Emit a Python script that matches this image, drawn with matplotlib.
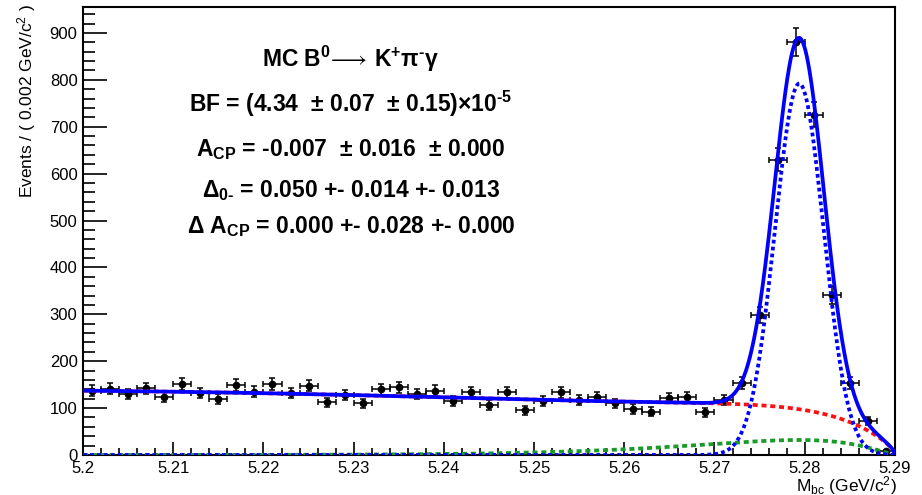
import numpy as np
import matplotlib
matplotlib.use("Agg")
import matplotlib.pyplot as plt
from matplotlib.ticker import MultipleLocator, FuncFormatter

plt.rcParams["font.family"] = ["Liberation Sans", "DejaVu Sans"]
plt.rcParams["mathtext.default"] = "regular"

# Binning of the M_bc histogram (GeV/c^2)
mbc_min, mbc_max, bin_width = 5.20, 5.29, 0.002

# Events per bin
counts = [137, 141, 130, 142, 124, 152, 132, 119, 149, 135,
          152, 132, 148, 112, 128, 110, 140, 144, 130, 137,
          116, 134, 107, 134, 95, 116, 134, 117, 124, 110,
          98, 92, 122, 124, 91, 117, 153, 299, 630, 880,
          726, 341, 153, 73, 8]

# Fit model: Gaussian signal, ARGUS continuum, peaking B background
sig_mean, sig_sigma, sig_peak = 5.2794, 0.0027, 792.0
argus_m0, argus_c, argus_norm = 5.29, -10.5, 204.7
bbkg_peak, bbkg_power, bbkg_c = 32.0, 1.25, -310.0

# Fit results printed on the plot
title_line = "MC B$^{0}\\!\\longrightarrow\\!$ K$^{+}$\u03c0$^{\u2010}$\u03b3"
bf_line = "BF = (4.34  \u00b1 0.07  \u00b1 0.15)\u00d710$^{\u2010 5}$"
acp_line = "A$_{CP}$ = -0.007  \u00b1 0.016  \u00b1 0.000"
delta0_line = "\u0394$_{0\u2010}$ = 0.050 +- 0.014 +- 0.013"
dacp_line = "\u0394 A$_{CP}$ = 0.000 +- 0.028 +- 0.000"


def argus_u(m):
    return np.clip(1.0 - (m / argus_m0) ** 2, 0.0, None)


def continuum(m):
    u = argus_u(m)
    return argus_norm * m * np.sqrt(u) * np.exp(argus_c * u)


def bbkg(m):
    u = argus_u(m)
    u0 = -bbkg_power / bbkg_c
    return bbkg_peak * (u / u0) ** bbkg_power * np.exp(bbkg_c * (u - u0))


def signal(m):
    return sig_peak * np.exp(-0.5 * ((m - sig_mean) / sig_sigma) ** 2)


n_bins = len(counts)
centers = mbc_min + bin_width * (np.arange(n_bins) + 0.5)
y = np.array(counts, dtype=float)
yerr = np.sqrt(y)

m = np.linspace(mbc_min, mbc_max, 1200)
bkg_total = continuum(m) + bbkg(m)
total = signal(m) + bkg_total

fig = plt.figure(figsize=(9.22, 4.95), dpi=100)
ax = fig.add_axes([0.0901, 0.0808, 0.8805, 0.9057])

ax.errorbar(centers, y, xerr=bin_width / 2, yerr=yerr, fmt="o", color="black",
            markersize=4.5, elinewidth=1.1, capsize=2.2, capthick=1.1, zorder=2)

ax.plot(m, bbkg(m), color="#1a9a2a", lw=2.7, ls=(0, (1.35, 1.0)),
        dash_capstyle="butt", zorder=3)
ax.plot(m, bkg_total, color="#ff1010", lw=2.7, ls=(0, (1.35, 1.0)),
        dash_capstyle="butt", zorder=3)
ax.plot(m, signal(m), color="#0000ff", lw=2.7, ls=(0, (1.0, 0.85)),
        dash_capstyle="butt", zorder=4)
ax.plot(m, total, color="#0000ff", lw=2.7, zorder=5)

ax.set_xlim(mbc_min, mbc_max)
ax.set_ylim(0, 956)

ax.xaxis.set_major_locator(MultipleLocator(0.01))
ax.xaxis.set_minor_locator(MultipleLocator(0.002))
ax.yaxis.set_major_locator(MultipleLocator(100))
ax.yaxis.set_minor_locator(MultipleLocator(20))
ax.xaxis.set_major_formatter(FuncFormatter(lambda v, p: "%g" % round(v, 3)))
ax.yaxis.set_major_formatter(FuncFormatter(lambda v, p: "%d" % round(v)))

ax.tick_params(axis="both", which="both", direction="in", top=False,
               right=False, labelsize=12, width=1.2, colors="black")
ax.tick_params(axis="x", which="major", length=9.7, pad=4)
ax.tick_params(axis="x", which="minor", length=4.8)
ax.tick_params(axis="y", which="major", length=17, pad=4)
ax.tick_params(axis="y", which="minor", length=8.6)

for side in ax.spines.values():
    side.set_linewidth(1.5)

fig.text(897 / 922, 1 - 491 / 495, "M$_{bc}$ (GeV/c$^{2}$)", ha="right",
         va="baseline", fontsize=12.5)
fig.text(27 / 922, 1 - 4 / 495, "Events / ( 0.002 GeV/c$^{2}$ )", rotation=90,
         ha="center", va="top", fontsize=12.5)

text_x = 351 / 922
for line, base in [(title_line, 67), (bf_line, 112), (acp_line, 156),
                   (delta0_line, 197), (dacp_line, 233)]:
    fig.text(text_x, 1 - base / 495, line, ha="center", va="baseline",
             fontsize=16.5, fontweight="bold")

fig.savefig("out.png", dpi=100)
